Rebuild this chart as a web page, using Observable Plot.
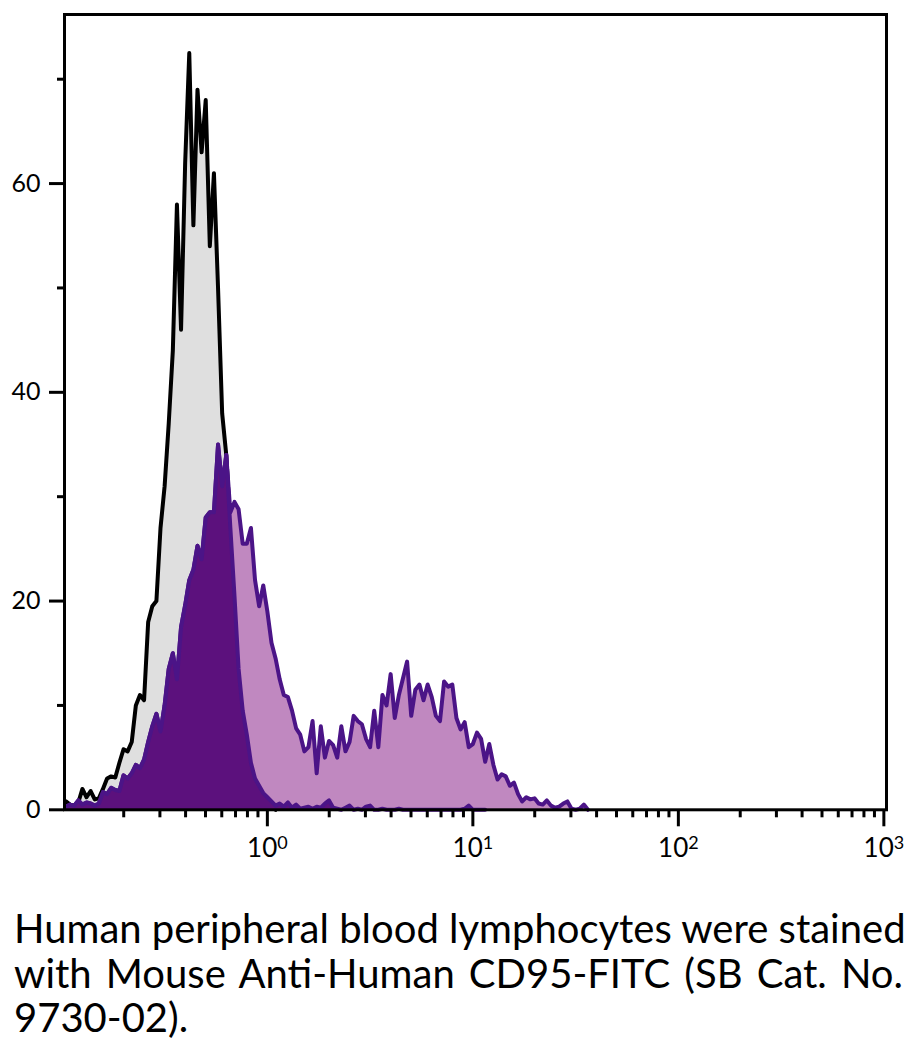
<!DOCTYPE html>
<html>
<head>
<meta charset="utf-8">
<script src="https://cdn.jsdelivr.net/npm/d3@7"></script>
<script src="https://cdn.jsdelivr.net/npm/@observablehq/plot@0.6"></script>
<style>
  html, body { margin: 0; padding: 0; background: #fff; }
  body { width: 915px; font-family: Lato, "Open Sans", sans-serif; }
  #chart svg { display: block; }
  #caption { margin: 6px 12px 0 14px; font-size: 40px; line-height: 44.5px; color: #000; }
  #caption .j { text-align: justify; text-align-last: justify; white-space: nowrap; }
</style>
</head>
<body>
<div id="chart"></div>
<div id="caption">
  <div class="j">Human peripheral blood lymphocytes were stained</div>
  <div class="j">with Mouse Anti-Human CD95-FITC (SB Cat. No.</div>
  <div>9730-02).</div>
</div>
<script>
// Channel grid of the log histogram: channel k sits at 0.1 * 10^(k * 0.02)
const channelStart = 0.1;
const decadesPerChannel = 0.02;

// Counts per channel (starting with channel 1)
const grayCounts = [0.8,0.5,0.4,0.7,2.0,1.2,1.8,1.0,1.1,2.0,3.0,3.2,3.1,4.5,5.8,5.6,6.5,10.0,11.0,10.5,
  18.0,19.5,20.0,27,31,37,44,58,46,62,72.5,56,69,63,68,54,61,50,38,34,
  27,20,14,9,6,4,2.5,1.5,1.0,0.5,0.2,0];

const darkCounts = [0.3,0.5,0.4,0.9,0.5,0.7,0.6,0.4,0.6,1.7,1.5,2.1,1.9,1.8,3.3,3.0,3.5,4.3,4.0,4.8,
  6.5,8.0,9.2,7.5,10.0,13.5,15.0,12.5,17.5,19.6,22.0,23.0,25.3,24.0,28.0,28.5,28.5,35,31,34,
  27,20.5,13.5,9.5,7.2,4.5,3.0,2.3,1.6,1.2,0.8,0.4,0.6,0.3,0.7,0.2,0.5,0.1,0.2,0.3,
  0.1,0.3,0.2,0.6,0.9,0.2,0.1,0,0.2,0.4,0,0.1,0,0.3,0.4,0,0,0.1,0,0,
  0,0.1,0,0,0,0,0,0,0,0,0,0,0,0,0,0,0,0.1,0.4,0,0,0,0];

const lightCounts = [0.3,0.5,0.4,0.9,0.5,0.7,0.6,0.4,0.6,1.7,1.5,2.1,1.9,1.8,3.3,3.0,3.5,4.3,4.0,4.8,
  6.5,8.0,9.2,7.5,10.0,13.5,15.0,12.5,17.5,19.6,22.0,23.0,25.3,24.0,28.0,28.5,28.5,35,31,34,
  28.5,29.5,28.8,25.5,25.5,27,22,19.5,21.5,19,16,14.5,12.5,11.0,10.8,9.5,7.8,7.2,5.6,6.0,
  8.5,3.5,8.0,5.0,6.6,6.2,5.0,8.0,5.6,6.5,9.0,8.5,8.2,6.8,6.0,9.5,6.0,11.0,10.0,13.0,
  8.8,11.0,12.6,14.2,9.0,11.5,12.0,10.5,12.0,10.8,9.0,8.5,12.3,11.8,12.0,8.8,7.7,8.4,6.0,6.3,
  7.4,6.8,4.6,6.3,4.3,2.9,3.4,3.2,2.3,2.6,1.5,0.8,1.2,1.0,1.1,0.6,0.5,0.9,0.4,0.2,
  0.3,0.6,0.8,0.1,0,0.1,0.5,0];

// Axis ticks
const yMajorTicks = [0, 20, 40, 60];
const yMinorTicks = [10, 30, 50, 70];
const xMajorTicks = [1, 10, 100, 1000];
const xMinorTicks = [0.2,0.3,0.4,0.5,0.6,0.7,0.8,0.9, 2,3,4,5,6,7,8,9, 20,30,40,50,60,70,80,90, 200,300,400,500,600,700,800,900];

const toRows = counts => counts.map((c, i) => ({x: channelStart * Math.pow(10, (i + 1) * decadesPerChannel), y: c}));
const gray = toRows(grayCounts);
const dark = toRows(darkCounts);
const light = toRows(lightCounts);

const lineColor = "#4b1487";
const lw = 4;

const H = 900;
const svg = Plot.plot({
  width: 915,
  height: H,
  marginLeft: 64,
  marginRight: 29,
  marginTop: 14,
  marginBottom: H - 809.3,
  style: {fontFamily: "Lato, 'Open Sans', sans-serif", fontSize: "25px", background: "#fff", color: "#000"},
  x: {type: "log", domain: [0.103, 1030]},
  y: {domain: [0, 76.2]},
  marks: [
    Plot.areaY(gray, {x: "x", y: "y", fill: "#dfdfdf"}),
    Plot.lineY(gray, {x: "x", y: "y", stroke: "#000", strokeWidth: lw}),
    Plot.areaY(light, {x: "x", y: "y", fill: "#c088c0"}),
    Plot.lineY(light, {x: "x", y: "y", stroke: lineColor, strokeWidth: lw}),
    Plot.areaY(dark, {x: "x", y: "y", fill: "#5c117d"}),
    Plot.lineY(dark, {x: "x", y: "y", stroke: lineColor, strokeWidth: lw}),
    Plot.frame({stroke: "#000", strokeWidth: 3}),
    Plot.axisY(yMajorTicks, {label: null, tickSize: 15, tickPadding: 9, strokeWidth: 3, fontSize: 25, tickFormat: d => String(d)}),
    Plot.axisY(yMinorTicks, {label: null, tickSize: 7, strokeWidth: 3, tickFormat: () => ""}),
    Plot.axisX(xMajorTicks, {label: null, tickSize: 17, tickPadding: 12, strokeWidth: 3, fontSize: 26,
      tickFormat: d => "10^" + Math.round(Math.log10(d))}),
    Plot.axisX(xMinorTicks, {label: null, tickSize: 8, strokeWidth: 3, tickFormat: () => ""})
  ]
});

// superscript exponents on the x tick labels
svg.querySelectorAll("text").forEach(t => {
  const s = t.textContent;
  if (!s.includes("^")) return;
  const [b, e] = s.split("^");
  t.textContent = "";
  const ns = "http://www.w3.org/2000/svg";
  const t1 = document.createElementNS(ns, "tspan");
  t1.textContent = b;
  const t2 = document.createElementNS(ns, "tspan");
  t2.textContent = e;
  t2.setAttribute("dy", "-0.45em");
  t2.setAttribute("font-size", "18");
  t.appendChild(t1);
  t.appendChild(t2);
});

document.getElementById("chart").appendChild(svg);
</script>
</body>
</html>
